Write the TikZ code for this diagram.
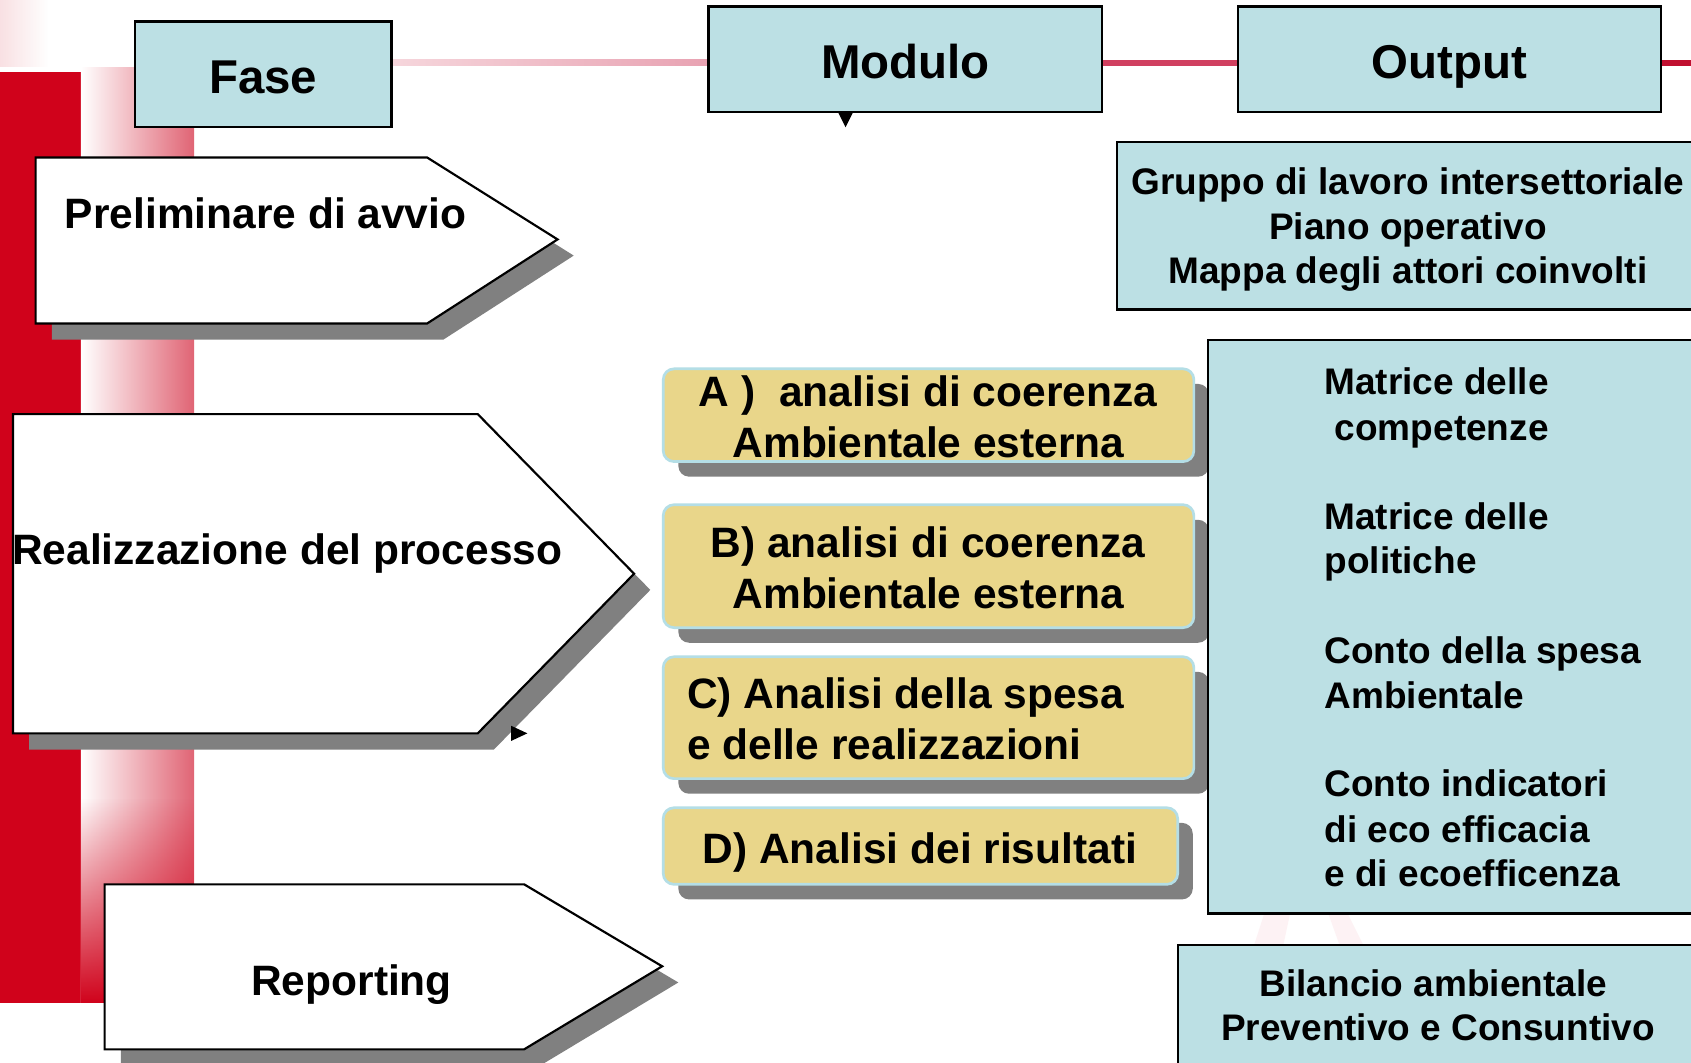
\documentclass[tikz,border=0pt]{standalone}
\usepackage{fontspec}
\setmainfont{Liberation Sans}
\usetikzlibrary{shadows,fadings}
\definecolor{lblue}{HTML}{BCE0E4}
\definecolor{yell}{HTML}{E9D68A}
\definecolor{ybord}{HTML}{B4DEE6}
\definecolor{shad}{HTML}{808080}
\definecolor{redbar}{HTML}{D0021B}
\definecolor{pinkA}{HTML}{F6D6DC}
\definecolor{pinkB}{HTML}{E8A2B2}
\definecolor{redline}{HTML}{D04060}
\definecolor{redlineB}{HTML}{C01030}
\definecolor{stripR}{HTML}{E06474}
\tikzset{
 bluebox/.style={draw=black, line width=2pt, fill=lblue, inner sep=0pt},
 ybox/.style={draw=ybord, line width=2.5pt, fill=yell, rounded corners=10pt, inner sep=0pt,
   drop shadow={shadow xshift=14pt, shadow yshift=-14pt, fill=shad, opacity=1}},
 arrowshape/.style={draw=black, line width=2pt, fill=white,
   drop shadow={shadow xshift=15pt, shadow yshift=-15pt, fill=shad, opacity=1}},
 tH/.style={font=\fontsize{44}{50}\selectfont\bfseries, inner sep=0pt},
 tM/.style={font=\fontsize{39.4}{46}\selectfont\bfseries, inner sep=0pt},
 tS/.style={font=\fontsize{34.3}{41}\selectfont\bfseries, inner sep=0pt},
}
\begin{document}
\begin{tikzpicture}[x=1pt,y=-1pt]
\useasboundingbox (0,0) rectangle (1568,985);
\clip (0,0) rectangle (1568,985);
% background decorations
\fill[white] (0,0) rectangle (1568,985);
\fill[redbar, opacity=0.12, path fading=east] (0,0) rectangle (45,62);
\fill[redbar] (0,67) rectangle (75,930);
\shade[left color=white, right color=stripR] (75,63) rectangle (180,930);
\fill[redbar, path fading=north] (75,740) rectangle (180,930);
\shade[left color=pinkA, right color=pinkB] (363,55.5) rectangle (657,61);
\fill[redline] (1022,55.5) rectangle (1148,61);
\fill[redlineB] (1540,55.5) rectangle (1568,61);
\fill[redbar!5] (1163,876) -- (1172,848) -- (1196,848) -- (1190,876) -- cycle;
\fill[redbar!5] (1232,848) -- (1250,848) -- (1264,876) -- (1242,876) -- cycle;

% header boxes
\node[bluebox, minimum width=238pt, minimum height=98pt] (fase) at (244,69) {};
\node[tH, anchor=base] (fasetxt) at (244,87) {Fase};
\node[bluebox, minimum width=365pt, minimum height=98pt] (modulo) at (839.5,55) {};
\node[tH, anchor=base] (modtxt) at (839.5,73) {Modulo};
\node[bluebox, minimum width=392pt, minimum height=98pt] (output) at (1344,55) {};
\node[tH, anchor=base] (outtxt) at (1344,73) {Output};
\fill (777,104) -- (791,104) -- (784,118) -- cycle;

% phase arrows
\draw[arrowshape] (33,146) -- (396,146) -- (517,222) -- (396,300) -- (33,300) -- cycle;
\node[tM, anchor=base west] (pretxt) at (60,212) {Preliminare di avvio};
\draw[arrowshape] (12,384) -- (443,384) -- (588,532) -- (443,680) -- (12,680) -- cycle;
\node[tM, anchor=base west] (realtxt) at (11,523) {Realizzazione del processo};
\fill (474,673) -- (489,680) -- (474,687) -- cycle;
\draw[arrowshape] (97,820) -- (486,820) -- (614,896) -- (486,973) -- (97,973) -- cycle;
\node[tM, anchor=base] (reptxt) at (326,923) {Reporting};

% modules
\node[ybox, minimum width=492pt, minimum height=86pt] (ya) at (861,385) {};
\node[tM, anchor=base] (ya1) at (860.5,377) {A )\ \ analisi di coerenza};
\node[tM, anchor=base] (ya2) at (861,424) {Ambientale esterna};
\node[ybox, minimum width=492pt, minimum height=114pt] (yb) at (861,525) {};
\node[tM, anchor=base] (yb1) at (860.5,517) {B) analisi di coerenza};
\node[tM, anchor=base] (yb2) at (861,564) {Ambientale esterna};
\node[ybox, minimum width=492pt, minimum height=113pt] (yc) at (861,665.5) {};
\node[tM, anchor=base west] (yc1) at (637,657) {C) Analisi della spesa};
\node[tM, anchor=base west] (yc2) at (637,704) {e delle realizzazioni};
\node[ybox, minimum width=477pt, minimum height=71pt] (yd) at (853.5,784.5) {};
\node[tM, anchor=base] (yd1) at (853,801) {D) Analisi dei risultati};

% outputs
\node[bluebox, minimum width=544pt, minimum height=155pt] (o1) at (1308,209.5) {};
\node[tS, anchor=base] (g1) at (1305.5,180) {Gruppo di lavoro intersettoriale};
\node[tS, anchor=base] (g2) at (1305.5,222) {Piano operativo};
\node[tS, anchor=base] (g3) at (1305.5,263) {Mappa degli attori coinvolti};

\node[bluebox, minimum width=460pt, minimum height=532pt] (o2) at (1350,581) {};
\node[tS, anchor=base west] (m1) at (1228,366) {Matrice delle};
\node[tS, anchor=base west] (m2) at (1237.5,408) {competenze};
\node[tS, anchor=base west] (m3) at (1228,491) {Matrice delle};
\node[tS, anchor=base west] (m4) at (1228,532) {politiche};
\node[tS, anchor=base west] (m5) at (1228,615) {Conto della spesa};
\node[tS, anchor=base west] (m6) at (1228,657) {Ambientale};
\node[tS, anchor=base west] (m7) at (1228,739) {Conto indicatori};
\node[tS, anchor=base west] (m8) at (1228,781) {di eco efficacia};
\node[tS, anchor=base west] (m9) at (1228,822) {e di ecoefficenza};

\node[bluebox, minimum width=488pt, minimum height=124pt] (o3) at (1336,938) {};
\node[tS, anchor=base] (b1) at (1329,924) {Bilancio ambientale};
\node[tS, anchor=base] (b2) at (1333.5,965) {Preventivo e Consuntivo};
\end{tikzpicture}
\end{document}
